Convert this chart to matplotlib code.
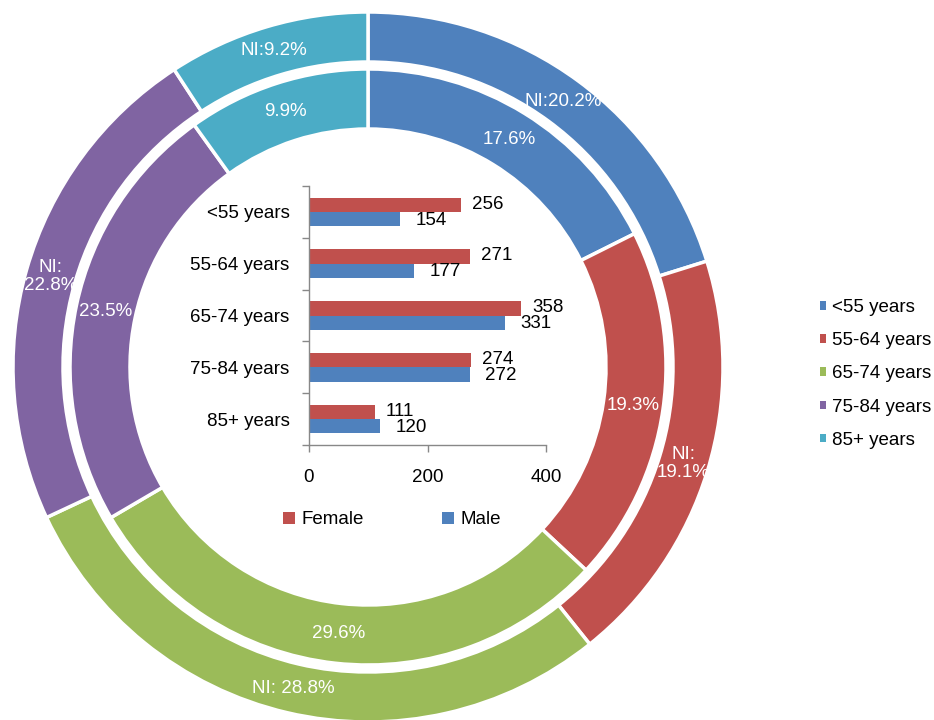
import matplotlib
matplotlib.use("Agg")
import matplotlib.pyplot as plt
from matplotlib.patches import Patch

plt.rcParams['font.family'] = ['Liberation Sans', 'DejaVu Sans']

# ---- data ----
age_groups = ["<55 years", "55-64 years", "65-74 years", "75-84 years", "85+ years"]
ni_pct = [20.2, 19.1, 28.8, 22.8, 9.2]          # outer ring (NI)
inner_pct = [17.6, 19.3, 29.6, 23.5, 9.9]       # inner ring
ni_labels = ["NI:20.2%", "NI:\n19.1%", "NI: 28.8%", "NI:\n22.8%", "NI:9.2%"]
inner_labels = ["17.6%", "19.3%", "29.6%", "23.5%", "9.9%"]
female = [256, 271, 358, 274, 111]
male = [154, 177, 331, 272, 120]
x_ticks = [0, 200, 400]

colors = ["#4F81BD", "#C0504D", "#9BBB59", "#8064A2", "#4BACC6"]
c_female = "#C0504D"
c_male = "#4F81BD"
FS = 13.5

W, H = 934, 720
fig = plt.figure(figsize=(W / 100, H / 100), dpi=100)

# ---- donut ----
cx, cy, R = 368, 367, 355
axp = fig.add_axes([(cx - R) / W, (H - cy - R) / H, 2 * R / W, 2 * R / H])
r_out = 1.0
w_out = 50 / R
r_in = 298 / R
w_in = 60 / R

wedges_o, texts_o = axp.pie(ni_pct, radius=r_out, colors=colors, startangle=90,
                            counterclock=False, labels=ni_labels,
                            labeldistance=(r_out - w_out / 2) / r_out,
                            wedgeprops=dict(width=w_out, edgecolor="white", linewidth=2.5),
                            textprops=dict(color="white", fontsize=FS))
wedges_i, texts_i = axp.pie(inner_pct, radius=r_in, colors=colors, startangle=90,
                            counterclock=False, labels=inner_labels,
                            labeldistance=(r_in - w_in / 2) / r_in,
                            wedgeprops=dict(width=w_in, edgecolor="white", linewidth=2.5),
                            textprops=dict(color="white", fontsize=FS))
for t in list(texts_o) + list(texts_i):
    t.set_ha("center")
    t.set_va("center")
    t.set_linespacing(1.1)
axp.set_xlim(-1, 1)
axp.set_ylim(-1, 1)
axp.set_aspect("equal")
axp.axis("off")

pie_handles = [Patch(facecolor=c, edgecolor="none") for c in colors]
leg1 = fig.legend(pie_handles, age_groups, loc="center left",
                  bbox_to_anchor=(820 / W, (H - 374) / H), frameon=False,
                  fontsize=FS, handlelength=0.33, handleheight=0.33,
                  handletextpad=0.3, labelspacing=0.86, borderpad=0,
                  borderaxespad=0)

# ---- bar chart ----
axb = fig.add_axes([309 / W, (H - 445) / H, 237 / W, 259 / H])
axb.patch.set_alpha(0)
n = len(age_groups)
ypos = list(range(n))
bh = 0.276
bf = axb.barh([y - bh / 2 for y in ypos], female, height=bh, color=c_female, label="Female")
bm = axb.barh([y + bh / 2 for y in ypos], male, height=bh, color=c_male, label="Male")
for rect, v in zip(bf, female):
    axb.annotate(str(v), (rect.get_width(), rect.get_y() + rect.get_height() / 2),
                 xytext=(8, 0.5), textcoords="offset points", ha="left", va="center",
                 fontsize=FS)
for rect, v in zip(bm, male):
    axb.annotate(str(v), (rect.get_width(), rect.get_y() + rect.get_height() / 2),
                 xytext=(11, -0.8), textcoords="offset points", ha="left", va="center",
                 fontsize=FS)
axb.set_ylim(n - 0.5, -0.5)
axb.set_xlim(x_ticks[0], x_ticks[-1])
axb.set_xticks(x_ticks)
axb.set_yticks(ypos)
axb.set_yticklabels(age_groups, fontsize=FS)
axb.set_yticks([y - 0.5 for y in range(n + 1)], minor=True)
axb.tick_params(axis="y", which="major", length=0, pad=14)
axb.tick_params(axis="y", which="minor", length=5, color="#888888", width=1)
axb.tick_params(axis="x", length=5, color="#888888", width=1, pad=12, labelsize=FS)
for s in ["top", "right"]:
    axb.spines[s].set_visible(False)
for s in ["left", "bottom"]:
    axb.spines[s].set_color("#888888")
    axb.spines[s].set_linewidth(1)

bar_handles = [Patch(facecolor=c_female, edgecolor="none"), Patch(facecolor=c_male, edgecolor="none")]
leg2 = fig.legend(bar_handles, ["Female", "Male"], loc="center",
                  bbox_to_anchor=(392 / W, (H - 520) / H), ncol=2, frameon=False,
                  fontsize=FS, handlelength=0.6, handleheight=0.6,
                  handletextpad=0.35, columnspacing=4.2, borderpad=0)

fig.savefig("out.png", dpi=100)
